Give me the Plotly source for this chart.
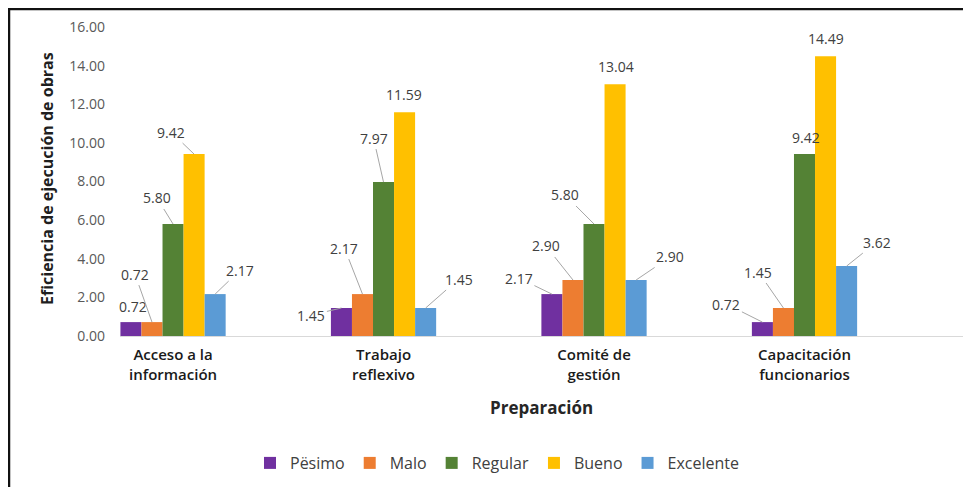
import plotly.graph_objects as go

# ---- data ----
categories = ["Acceso a la<br>información", "Trabajo<br>reflexivo", "Comité de<br>gestión", "Capacitación<br>funcionarios"]
series_names = ["Pësimo", "Malo", "Regular", "Bueno", "Excelente"]
pesimo = [0.72, 1.45, 2.17, 0.72]
malo = [0.72, 2.17, 2.90, 1.45]
regular = [5.80, 7.97, 5.80, 9.42]
bueno = [9.42, 11.59, 13.04, 14.49]
excelente = [2.17, 1.45, 2.90, 3.62]
series_values = [pesimo, malo, regular, bueno, excelente]
y_ticks = [0, 2, 4, 6, 8, 10, 12, 14, 16]

# ---- style ----
colors = ["#7030A0", "#ED7D31", "#548235", "#FFC000", "#5B9BD5"]
FONT = "Open Sans"
PAGE_OFF = 8                      # page body margin in the browser
W, H = 971 - PAGE_OFF, 487 - PAGE_OFF
L, R, T, B = 120, 963, 27, 336    # plot area, in screen px

# label offsets (px) from bar top: (dx, dy, leader line?)
label_offsets = [
    [(2, -16, False), (-30, 7, True), (-33, -16, True), (-36, -18, True)],
    [(-17, -48, True), (-18, -46, True), (-27, -34, True), (-25, -36, True)],
    [(-16, -26, True), (-10, -44, True), (-29, -29, True), (1, -17, False)],
    [(-23, -22, True), (-1, -18, False), (1, -18, False), (0, -18, False)],
    [(25, -24, True), (33, -29, True), (34, -23, True), (30, -24, True)],
]

def px_x(px):
    return (px - L) / (R - L)

def px_y(py):
    return (B - py) / (B - T)

fig = go.Figure()
for name, vals, col in zip(series_names, series_values, colors):
    fig.add_trace(go.Bar(name=name, x=categories, y=vals, marker=dict(color=col, line=dict(width=0))))

n = len(series_names)
bar_w = 0.5 / n
annotations = []
for k, vals in enumerate(series_values):
    for i, v in enumerate(vals):
        dx, dy, line = label_offsets[k][i]
        annotations.append(dict(
            x=i + (k - (n - 1) / 2) * bar_w, y=v, xref="x", yref="y",
            text=f"{v:.2f}", showarrow=True, arrowhead=0, arrowwidth=1,
            arrowcolor="#a6a6a6" if line else "rgba(0,0,0,0)", standoff=0,
            ax=dx, ay=dy, font=dict(family=FONT, size=14, color="#404040"),
        ))

annotations.append(dict(
    x=px_x(47), y=px_y(179), xref="paper", yref="paper", showarrow=False,
    xanchor="center", yanchor="middle",
    text="<b>Eficiencia de ejecución de obras</b>", textangle=-90,
    font=dict(family=FONT, size=16, color="#1f1f1f"),
))
annotations.append(dict(
    x=px_x(541), y=px_y(408), xref="paper", yref="paper", showarrow=False,
    xanchor="center", yanchor="middle",
    text="<b>Preparación</b>", font=dict(family=FONT, size=17, color="#262626"),
))

shapes = [
    dict(type="line", xref="paper", yref="paper", x0=px_x(8.5), x1=px_x(975), y0=px_y(9), y1=px_y(9),
         line=dict(color="#111111", width=2.5)),
    dict(type="line", xref="paper", yref="paper", x0=px_x(9), x1=px_x(9), y0=px_y(8), y1=px_y(495),
         line=dict(color="#111111", width=2.5)),
]

fig.update_layout(
    width=W, height=H,
    margin=dict(l=L - PAGE_OFF, r=971 - R, t=T - PAGE_OFF, b=487 - B, autoexpand=False),
    paper_bgcolor="white", plot_bgcolor="white",
    barmode="group", bargap=0.5, bargroupgap=0,
    font=dict(family=FONT, color="#404040"),
    showlegend=True,
    legend=dict(orientation="h", x=px_x(497), xanchor="center", y=px_y(463), yanchor="middle",
                font=dict(family=FONT, size=16, color="#404040"), traceorder="normal"),
    annotations=annotations,
    shapes=shapes,
    xaxis=dict(type="category", range=[-0.252, 3.753], showline=True, linecolor="#d9d9d9", linewidth=1,
               showgrid=False, zeroline=False, ticks="", ticklabelstandoff=5,
               tickfont=dict(family=FONT, size=15, color="#1a1a1a", weight=600)),
    yaxis=dict(range=[0, 16], tickvals=y_ticks, tickformat=".2f", showgrid=False, showline=False,
               zeroline=False, ticks="", ticklabelstandoff=14,
               tickfont=dict(family=FONT, size=14, color="#595959")),
)

fig.write_html("out.html")
